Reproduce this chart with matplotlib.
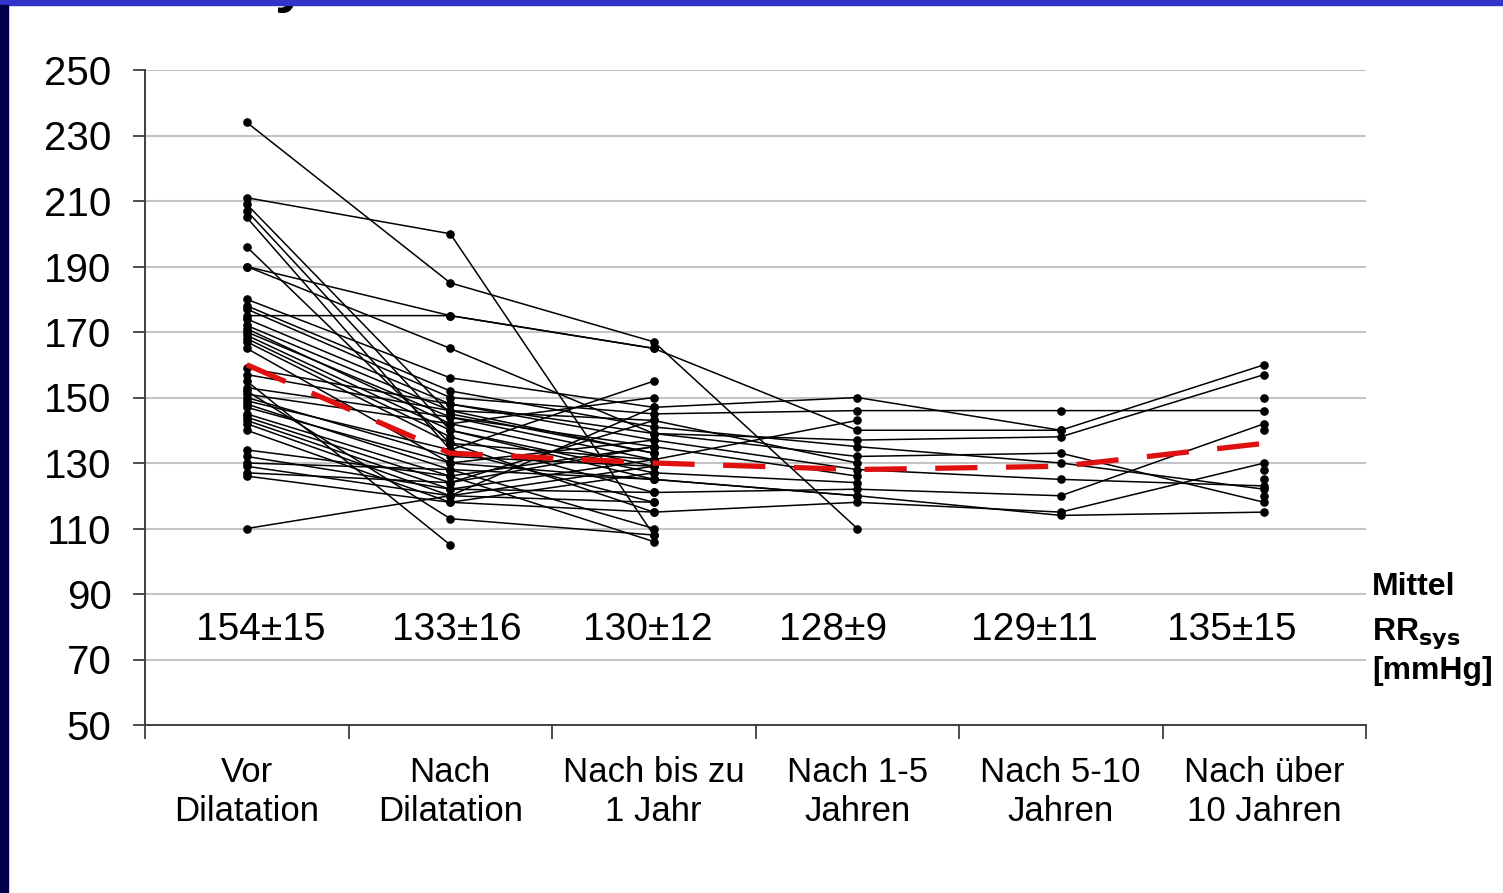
import numpy as np
import matplotlib.pyplot as plt
from matplotlib.patches import Rectangle

nan = np.nan

categories = ["Vor\nDilatation", "Nach\nDilatation", "Nach bis zu\n1 Jahr",
              "Nach 1-5\nJahren", "Nach 5-10\nJahren", "Nach über\n10 Jahren"]
mean_labels = ["154±15", "133±16", "130±12", "128±9", "129±11", "135±15"]

# individual patients: Vor, Nach, <1 J, 1-5 J, 5-10 J, >10 J (mmHg)
patients = [
    [234, 185, 167, 110, nan, nan],
    [211, 200, 108, nan, nan, nan],
    [209, 145, 133, nan, nan, nan],
    [207, 140, 125, 120, nan, nan],
    [205, 134, 118, nan, nan, nan],
    [196, 136, 131, nan, nan, nan],
    [190, 175, 165, 140, 140, 160],
    [190, 165, 139, 132, 133, 118],
    [180, 156, 147, 150, 140, nan],
    [178, 152, 141, 135, 130, 122],
    [177, 150, 145, 146, 146, 146],
    [175, 175, 165, nan, nan, nan],
    [174, 148, 137, 128, 125, 123],
    [172, 146, 143, 130, nan, 125],
    [171, 142, 129, nan, nan, nan],
    [170, 144, 135, 126, nan, 128],
    [169, 140, 127, 124, nan, nan],
    [168, 138, 121, 122, 120, 142],
    [167, 136, 115, 118, 115, 130],
    [165, 130, 125, 120, 114, 115],
    [159, 148, 139, 137, 138, 157],
    [157, 146, 133, nan, nan, nan],
    [155, 105, nan, nan, nan, nan],
    [153, 144, 131, 143, nan, 150],
    [151, 142, 150, nan, nan, nan],
    [150, 132, 129, nan, nan, nan],
    [149, 134, 155, nan, nan, nan],
    [148, 128, 110, nan, nan, nan],
    [147, 130, 137, nan, nan, nan],
    [145, 126, 106, nan, nan, 120],
    [144, 124, 135, nan, nan, nan],
    [143, 122, 121, nan, nan, nan],
    [142, 120, 118, nan, nan, nan],
    [140, 118, 127, nan, nan, 140],
    [134, 126, 135, nan, nan, nan],
    [132, 122, 131, nan, nan, nan],
    [130, 128, 125, nan, nan, nan],
    [129, 120, 147, nan, nan, nan],
    [127, 124, 143, nan, nan, nan],
    [126, 118, 115, nan, nan, nan],
    [110, 120, 129, nan, nan, nan],
    [152, 113, 108, nan, nan, nan],
]
mean_line = [160, 133, 130, 128, 129, 136]

plt.rcParams['font.family'] = ['Liberation Sans', 'DejaVu Sans']

fig = plt.figure(figsize=(15.03, 8.93), dpi=100)
ax = fig.add_axes([145/1503, 1-725/893, 1221/1503, 655/893])

x = np.arange(len(categories))
for p in patients:
    ax.plot(x, p, color='black', lw=1.1, marker='o', ms=5.2, zorder=3)
ax.plot(x, mean_line, color='#e01010', lw=3.8, dashes=(8.0, 5.4), zorder=4)

ax.set_xlim(-0.5, 5.5)
ax.set_ylim(50, 250)
ax.set_yticks(np.arange(50, 251, 20))
ax.tick_params(axis='y', labelsize=29, length=9, width=1.3, pad=15, color='#404040')
ax.set_xticks(x)
ax.set_xticklabels(categories, fontsize=25, linespacing=1.25)
ax.set_xticks(np.arange(-0.5, 5.6, 1), minor=True)
ax.tick_params(axis='x', which='major', length=0, pad=22)
ax.tick_params(axis='x', which='minor', length=10, width=1.3, color='#404040')
for lab in ax.get_xticklabels():
    lab.set_multialignment('center')

for yv in range(70, 251, 20):
    ax.axhline(yv, color='#c4c4c4', lw=1.5, zorder=1)

for s in ['top', 'right']:
    ax.spines[s].set_visible(False)
for s in ['left', 'bottom']:
    ax.spines[s].set_color('#404040')
    ax.spines[s].set_linewidth(1.4)

label_dx = [0.07, 0.03, -0.03, -0.12, -0.13, -0.16]
for i, t in enumerate(mean_labels):
    ax.text(i + label_dx[i], 79, t, fontsize=28, ha='center', va='center')

ax.text(1.005, 92, "Mittel", transform=ax.get_yaxis_transform(), fontsize=23,
        fontweight='bold', va='center', ha='left', clip_on=False)
ax.text(1.005, 78, r"RR$_{\mathbf{sys}}$", transform=ax.get_yaxis_transform(), fontsize=23,
        fontweight='bold', va='center', ha='left', clip_on=False)
ax.text(1.005, 66.5, "[mmHg]", transform=ax.get_yaxis_transform(), fontsize=23,
        fontweight='bold', va='center', ha='left', clip_on=False)

# cut-off title glyph and slide border
fig.text(275/1503, 1-1/893, "y", fontsize=42, fontweight='bold', va='baseline', zorder=1)
fig.patches.append(Rectangle((0, 1-5/893), 1, 5/893, transform=fig.transFigure,
                             color='#3333cc', zorder=10))
fig.patches.append(Rectangle((0, 0), 8/1503, 1-5/893, transform=fig.transFigure,
                             color='#00004a', zorder=10))

fig.savefig('out.png', dpi=100)
